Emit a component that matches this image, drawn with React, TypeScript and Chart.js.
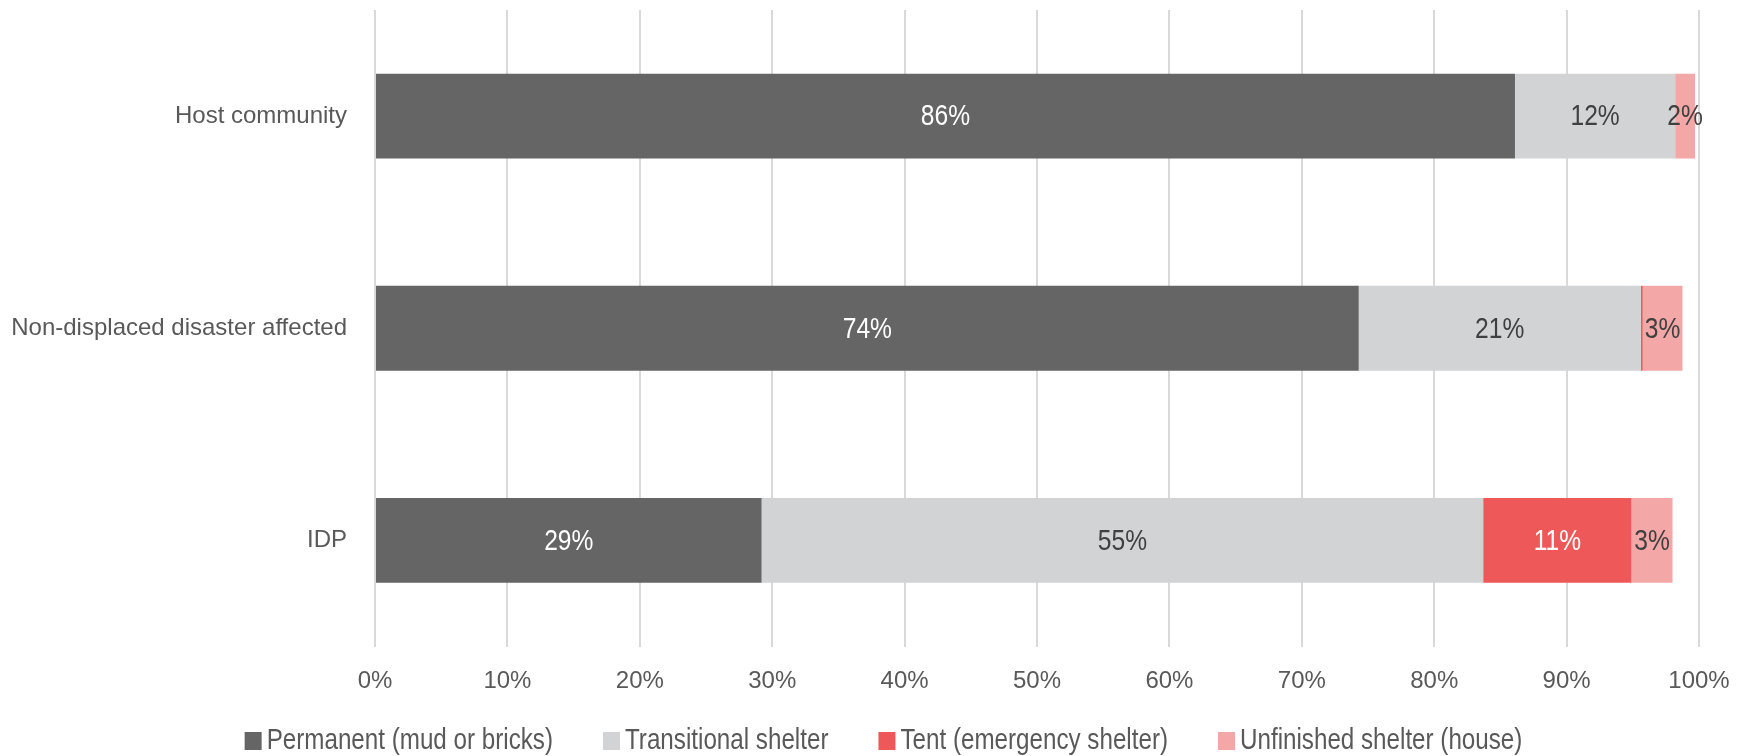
import React, { useEffect, useRef } from "react";
import { Chart, registerables } from "chart.js";

Chart.register(...registerables);

const categories = ["Host community", "Non-displaced disaster affected", "IDP"];
const seriesNames = [
  "Permanent (mud or bricks)",
  "Transitional shelter",
  "Tent (emergency shelter)",
  "Unfinished shelter (house)",
];
const permanent = [86.1, 74.3, 29.2];
const transitional = [12.1, 21.3, 54.5];
const tent = [0, 0.15, 11.2];
const unfinished = [1.5, 3.0, 3.1];
const xTicks = [0, 10, 20, 30, 40, 50, 60, 70, 80, 90, 100];

const colors = ["#656565", "#D2D3D5", "#EE5859", "#F4A7A7"];
const labelColors = ["#FFFFFF", "#404040", "#FFFFFF", "#404040"];
const FONT = "'Liberation Sans', Arial, sans-serif";
const NARROW = 0.82;

function narrowText(ctx: any, text: string, x: number, y: number, align: string) {
  ctx.save();
  ctx.translate(x, y);
  ctx.scale(NARROW, 1);
  ctx.textAlign = align;
  ctx.fillText(text, 0, 0);
  ctx.restore();
}

const valueLabels = {
  id: "valueLabels",
  afterDatasetsDraw(chart: any) {
    const ctx = chart.ctx;
    ctx.save();
    ctx.font = `30px ${FONT}`;
    ctx.textBaseline = "middle";
    chart.data.datasets.forEach((ds: any, i: number) => {
      const meta = chart.getDatasetMeta(i);
      meta.data.forEach((bar: any, j: number) => {
        const v = ds.data[j];
        const r = Math.round(v);
        if (r < 1) return;
        const p = bar.getProps(["x", "y", "base"], true);
        ctx.fillStyle = labelColors[i];
        narrowText(ctx, `${r}%`, (p.x + p.base) / 2, p.y + 1, "center");
      });
    });
    ctx.restore();
  },
};

const bottomLegend = {
  id: "bottomLegend",
  afterDraw(chart: any) {
    const ctx = chart.ctx;
    ctx.save();
    ctx.font = `29.5px ${FONT}`;
    ctx.textBaseline = "middle";
    const box = 17;
    const gapBox = 5;
    const gapItem = 50;
    const items = chart.data.datasets.map((ds: any) => ({
      text: ds.label,
      color: ds.backgroundColor,
      w: ctx.measureText(ds.label).width * NARROW,
    }));
    const total =
      items.reduce((s: number, it: any) => s + box + gapBox + it.w, 0) +
      gapItem * (items.length - 1);
    let x = chart.width / 2 + 11 - total / 2;
    const cy = 741;
    items.forEach((it: any) => {
      ctx.fillStyle = it.color;
      ctx.fillRect(x, cy - 9, box, 18);
      x += box + gapBox;
      ctx.fillStyle = "#595959";
      narrowText(ctx, it.text, x, cy, "left");
      x += it.w + gapItem;
    });
    ctx.restore();
  },
};

export default function App() {
  const ref = useRef<HTMLCanvasElement>(null);
  useEffect(() => {
    document.body.style.margin = "0";
    const seriesData = [permanent, transitional, tent, unfinished];
    const chart = new Chart(ref.current!, {
      type: "bar",
      data: {
        labels: categories,
        datasets: seriesNames.map((name, i) => ({
          label: name,
          data: seriesData[i],
          backgroundColor: colors[i],
          borderWidth: 0,
          barPercentage: 0.4,
          categoryPercentage: 1,
        })),
      },
      options: {
        indexAxis: "y",
        animation: false,
        responsive: false,
        maintainAspectRatio: false,
        layout: { padding: { top: 10, left: 0, right: 46, bottom: 59.5 } },
        scales: {
          x: {
            stacked: true,
            min: 0,
            max: 100,
            afterBuildTicks(scale: any) {
              scale.ticks = xTicks.map((v) => ({ value: v }));
            },
            afterFit(scale: any) {
              scale.height = 50;
              scale.paddingLeft = 0;
              scale.paddingRight = 0;
            },
            grid: { color: "#D9D9D9", lineWidth: 2, drawTicks: false },
            border: { display: false },
            ticks: {
              padding: 20,
              color: "#595959",
              font: { family: FONT, size: 24 },
              callback: (v: any) => `${v}%`,
            },
          },
          y: {
            stacked: true,
            afterFit(scale: any) {
              scale.width = 375;
              scale.paddingTop = 0;
              scale.paddingBottom = 0;
            },
            grid: { display: false, drawTicks: false },
            border: { display: false },
            ticks: {
              padding: 28,
              color: "#595959",
              font: { family: FONT, size: 24 },
            },
          },
        },
        plugins: {
          legend: { display: false },
          tooltip: { enabled: false },
        },
      },
      plugins: [valueLabels, bottomLegend],
    });
    return () => chart.destroy();
  }, []);
  return (
    <div style={{ width: 1745, height: 756 }}>
      <canvas ref={ref} width={1745} height={756} style={{ display: "block" }} />
    </div>
  );
}
